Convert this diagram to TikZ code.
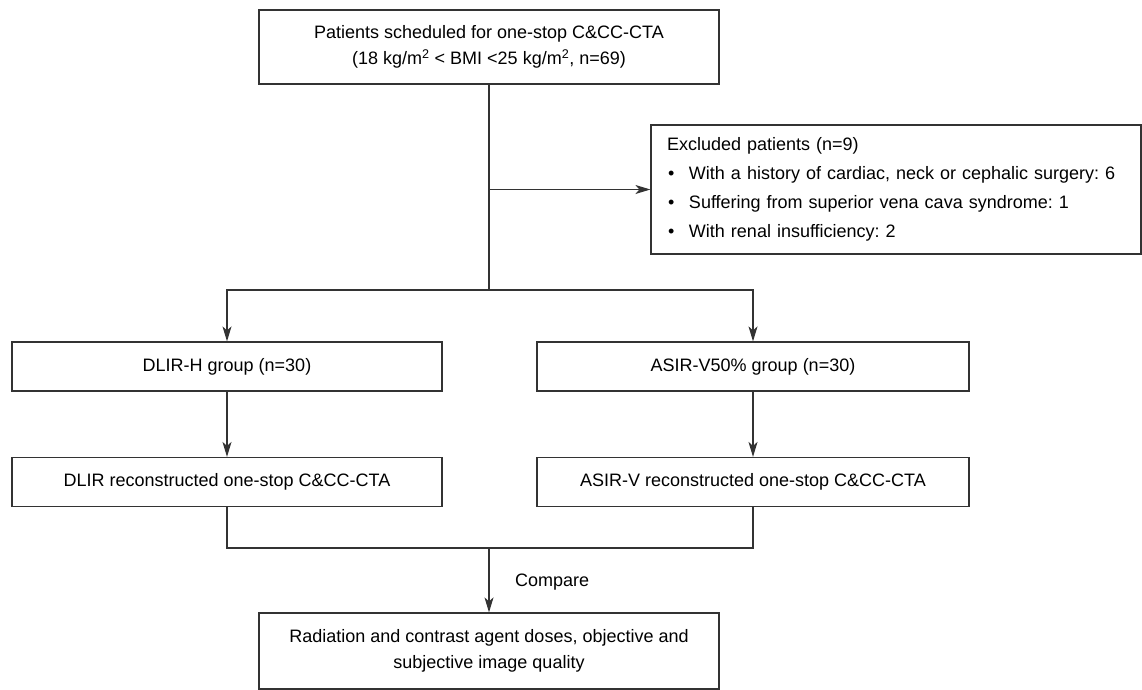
\documentclass[tikz,border=0pt]{standalone}
\usepackage{fontspec}
\setmainfont{Liberation Sans}
\frenchspacing
\usetikzlibrary{arrows.meta}
\begin{document}
\begin{tikzpicture}[x=1pt,y=-1pt,
  font=\fontsize{18}{26}\selectfont,
  box/.style={draw=black!80,line width=1.2pt,minimum height=49pt,align=center,inner sep=0pt},
  link/.style={draw=black!80,line width=1.2pt},
  arr/.style={link,-{Stealth[length=15pt,width=9pt,inset=4pt]}}]

  \useasboundingbox (0,0) rectangle (1142,690);

  \node[box,minimum width=460pt,minimum height=74pt] (pat) at (489,47)
    {Patients scheduled for one-stop C\&CC-CTA\\(18 kg/m\textsuperscript{2} < BMI <25 kg/m\textsuperscript{2}, n=69)};
  \node[box,align=left,text width=458pt,inner xsep=16pt,minimum height=129pt,
    font=\fontsize{18}{29}\selectfont] (excl) at (896,189.5)
    {Excluded patients (n=9)\\
     \hspace*{1pt}\makebox[21pt][l]{\textbullet}With a history of cardiac, neck or cephalic surgery: 6\\
     \hspace*{1pt}\makebox[21pt][l]{\textbullet}Suffering from superior vena cava syndrome: 1\\
     \hspace*{1pt}\makebox[21pt][l]{\textbullet}With renal insufficiency: 2};

  \node[box,minimum width=430pt] (dlirh) at (227,366.5) {DLIR-H group (n=30)};
  \node[box,minimum width=432pt] (asirg) at (753,366.5) {ASIR-V50\% group (n=30)};
  \node[box,minimum width=430pt] (dlirr) at (227,482) {DLIR reconstructed one-stop C\&CC-CTA};
  \node[box,minimum width=432pt] (asirr) at (753,482) {ASIR-V reconstructed one-stop C\&CC-CTA};

  \node[box,minimum width=460pt,minimum height=76pt] (res) at (489,651)
    {Radiation and contrast agent doses, objective and\\subjective image quality};
  \node[anchor=west,inner sep=0pt] (cmp) at (515,582) {Compare};

  \coordinate (brk) at (489,189.5);
  \coordinate (spl) at (489,290);
  \coordinate (jn) at (489,548);

  \draw[link] (pat) -- (spl);
  \draw[arr] (brk) -- (excl);
  \draw[arr] (spl) -| (dlirh);
  \draw[arr] (spl) -| (asirg);
  \draw[arr] (dlirh) -- (dlirr);
  \draw[arr] (asirg) -- (asirr);
  \draw[link] (dlirr) |- (jn) -| (asirr);
  \draw[arr] (jn) -- (res);
\end{tikzpicture}
\end{document}
